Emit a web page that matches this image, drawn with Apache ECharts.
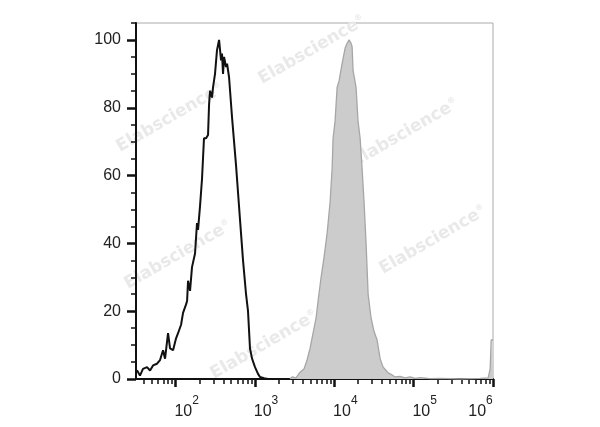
<!DOCTYPE html>
<html>
<head>
<meta charset="utf-8">
<script src="https://cdn.jsdelivr.net/npm/echarts@6/dist/echarts.min.js"></script>
<style>html,body{margin:0;padding:0;background:#fff}#c{width:600px;height:427px}</style>
</head>
<body>
<div id="c"></div>
<script>
// x values are log10 of fluorescence intensity, y values are % of max
var blackLog = [1.513,1.550,1.588,1.639,1.677,1.715,1.765,1.803,1.841,1.866,1.891,1.904,1.929,1.967,2.005,2.030,2.068,2.093,2.131,2.144,2.156,2.181,2.206,2.244,2.269,2.282,2.307,2.332,2.357,2.383,2.408,2.421,2.433,2.458,2.471,2.496,2.521,2.547,2.572,2.584,2.597,2.610,2.635,2.648,2.673,2.711,2.736,2.761,2.786,2.811,2.849,2.887,2.912,2.937,2.963,3.000,3.038,3.063,3.114,3.165];
var blackCount = [2.6,1.0,3.0,3.5,2.5,4.0,4.5,5.6,8.5,6.0,6.5,13.5,9.0,8.5,12.0,13.5,16.0,19.5,22.0,23.0,29.0,26.0,33.0,37.0,46.0,44.0,51.0,59.0,71.0,71.0,72.0,81.0,85.0,83.0,86.0,90.0,97.0,100.0,94.0,96.0,90.0,95.0,92.0,93.0,89.0,77.0,70.0,63.0,55.0,47.0,35.0,25.0,20.0,9.0,6.0,3.5,1.5,0.6,0.2,0.0];
var grayLog = [3.442,3.467,3.518,3.568,3.619,3.656,3.694,3.732,3.770,3.795,3.833,3.871,3.909,3.946,3.972,3.984,4.009,4.035,4.060,4.098,4.136,4.161,4.186,4.211,4.224,4.236,4.274,4.299,4.325,4.350,4.375,4.400,4.426,4.463,4.501,4.539,4.577,4.615,4.653,4.678,4.728,4.766,4.829,4.892,4.955,5.018,5.081,5.207,5.334,5.586,5.838,5.939,5.964,5.977,5.990,6.000];
var grayCount = [0.0,0.6,0.3,2.0,3.0,5.6,9.0,13.5,18.0,23.0,30.0,36.0,43.0,52.0,62.0,71.0,76.0,86.0,88.0,93.0,97.6,99.0,100.0,99.0,98.0,91.0,86.0,76.0,71.0,62.0,52.0,40.0,25.0,18.0,14.0,11.5,6.0,3.5,2.5,1.8,1.2,0.6,0.8,0.3,0.6,0.2,0.4,0.1,0.2,0.0,0.2,0.3,3.0,11.5,11.5,11.5];
var xMajorTicks = [2,3,4,5,6];
var xMinorTicks = [];
[1,2,3,4,5].forEach(function(d){ for (var k=2;k<=9;k++){ var v=d+Math.log10(k); if (v>1.5 && v<6) xMinorTicks.push(v);} });
var yMajorTicks = [0,20,40,60,80,100];
var yMinorTicks = [5,10,15,25,30,35,45,50,55,65,70,75,85,90,95,105];
var watermark = 'Elabscience';
var watermarkPos = [[312,50],[170,118],[405,133],[178,255],[433,240],[264,345]];

function pairs(xs, ys){ return xs.map(function(x,i){ return [x, ys[i]]; }); }

var FONT = '"Liberation Sans", Arial, sans-serif';
var chart = echarts.init(document.getElementById('c'), null, {renderer:'canvas'});
var graphics = watermarkPos.map(function(p){
  return {
    type:'text', x:p[0], y:p[1], rotation: Math.PI/6, z:0, silent:true,
    style:{
      text:'{a|'+watermark+'}{r|®}', align:'center', verticalAlign:'middle',
      rich:{
        a:{font:'bold 17px "DejaVu Sans", sans-serif', fill:'#e9e9e9', verticalAlign:'bottom'},
        r:{font:'bold 8px "DejaVu Sans", sans-serif', fill:'#e9e9e9', verticalAlign:'top'}
      }
    }
  };
});

var option = {
  animation:false,
  backgroundColor:'#fff',
  graphic: graphics,
  grid:{left:136, right:107, top:23, bottom:48, show:true, borderColor:'#aaaaaa', borderWidth:1, backgroundColor:'transparent'},
  xAxis:[
    {type:'value', min:1.5, max:6, position:'bottom',
     axisLine:{show:true, lineStyle:{color:'#111', width:2}},
     splitLine:{show:false},
     axisTick:{show:true, customValues:xMajorTicks, length:8, lineStyle:{color:'#111', width:2.5}},
     axisLabel:{show:true, customValues:xMajorTicks, margin:16,
       formatter:function(v){ var e=Math.round(v); return e===6 ? '{bl|10}{sl|'+e+'}' : '{b|10}{s|'+e+'}'; },
       rich:{
         b:{fontFamily:FONT, fontSize:16, color:'#222', verticalAlign:'bottom', padding:[0,0,0,22]},
         s:{fontFamily:FONT, fontSize:12, color:'#222', verticalAlign:'top', padding:[0,0,13,0]},
         bl:{fontFamily:FONT, fontSize:16, color:'#222', verticalAlign:'bottom'},
         sl:{fontFamily:FONT, fontSize:12, color:'#222', verticalAlign:'top', padding:[0,25,13,0]}
       }}
    },
    {type:'value', min:1.5, max:6, position:'bottom',
     axisLine:{show:false}, splitLine:{show:false}, axisLabel:{show:false},
     axisTick:{show:true, customValues:xMinorTicks, length:5, lineStyle:{color:'#111', width:1.5}}
    }
  ],
  yAxis:[
    {type:'value', min:0, max:105, position:'left',
     axisLine:{show:true, lineStyle:{color:'#111', width:2}},
     splitLine:{show:false},
     axisTick:{show:true, customValues:yMajorTicks, length:9, lineStyle:{color:'#111', width:2.5}},
     axisLabel:{show:true, customValues:yMajorTicks, margin:15, fontFamily:FONT, fontSize:16, color:'#222'}
    },
    {type:'value', min:0, max:105, position:'left',
     axisLine:{show:false}, splitLine:{show:false}, axisLabel:{show:false},
     axisTick:{show:true, customValues:yMinorTicks, length:5, lineStyle:{color:'#111', width:1.5}}
    }
  ],
  series:[
    {type:'line', data:pairs(grayLog, grayCount), showSymbol:false, z:2,
     lineStyle:{color:'#a6a6a6', width:1.3}, areaStyle:{color:'#cccccc', opacity:1}},
    {type:'line', data:pairs(blackLog, blackCount), showSymbol:false, z:3,
     lineStyle:{color:'#111111', width:2}}
  ]
};
chart.setOption(option);
</script>
</body>
</html>
